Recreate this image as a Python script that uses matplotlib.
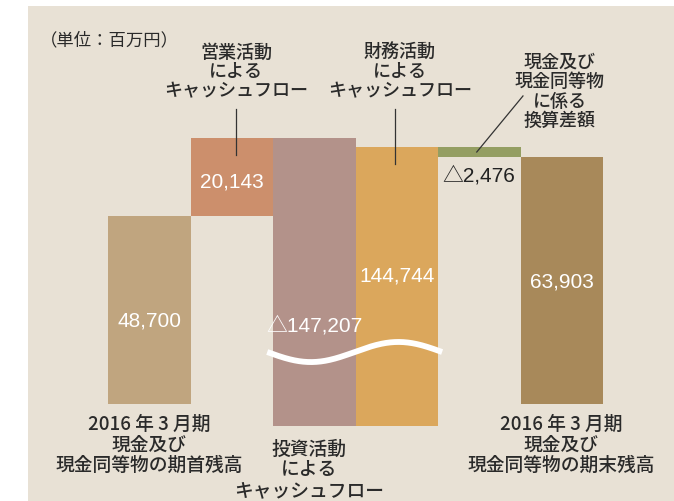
import numpy as np
import matplotlib
matplotlib.use("Agg")
import matplotlib.pyplot as plt
from matplotlib.patches import Rectangle

# ---- data (百万円) ----
steps = ["期首残高", "営業CF", "投資CF", "財務CF", "換算差額", "期末残高"]
values = [48700, 20143, -147207, 144744, -2476, 63903]
value_labels = ["48,700", "20,143", "△147,207", "144,744", "△2,476", "63,903"]
colors = ["#c0a57f", "#cc8f6c", "#b3928a", "#dba75c", "#949e62", "#a8895a"]
label_colors = ["white", "white", "white", "white", "#222222", "white"]
cut_value = -5700  # visible lower end of broken bars

W, H = 674, 502
fig = plt.figure(figsize=(W / 100, H / 100), dpi=100)
fig.patch.set_facecolor("white")
fig.patches.append(Rectangle((28 / W, 0), 1 - 28 / W, 1 - 7 / H,
                             transform=fig.transFigure, facecolor="#e8e1d5",
                             edgecolor="none", zorder=-5))

ax = fig.add_axes([0, 0, 1, 1])
ax.set_zorder(2)
ax.set_facecolor("none")
pxu = 82.5          # pixels per bar
base_px = 405       # baseline pixel row
scale = 3.865 / 1000  # pixels per yen-million
ax.set_xlim((0 - 108) / pxu - 0.5, (W - 108) / pxu - 0.5)
ax.set_ylim(-(H - base_px) / scale, base_px / scale)
ax.axis("off")

# waterfall geometry
cum = 0
bottoms, heights = [], []
for i, v in enumerate(values):
    if i == 0 or i == len(values) - 1:
        b, t = 0, v
        cum = v
    else:
        b, t = cum, cum + v
        cum = t
    lo, hi = min(b, t), max(b, t)
    lo = max(lo, cut_value)
    bottoms.append(lo)
    heights.append(hi - lo)

x = np.arange(len(values))
ax.bar(x, heights, bottom=bottoms, width=1.0, color=colors, edgecolor="none", zorder=2)

# broken-axis wave across the investment/financing bars
t = np.linspace(0, 1, 200)
wx = 1.43 + (3.55 - 1.43) * t
wy = 13450 - 2600 * np.sin(2 * np.pi * t)
ax.plot(wx, wy, color="white", lw=4.2, solid_capstyle="butt", zorder=3)

# value labels
num_font = ["Liberation Sans", "Noto Sans CJK JP"]
label_y = [21700, 57800, 20500, 33500, 59300, 31800]
for i in range(len(values)):
    ax.text(x[i], label_y[i], value_labels[i], ha="center", va="center",
            fontsize=15, color=label_colors[i], family=num_font, zorder=4)

# leader lines
lc = "#333333"
ax.plot([1.05, 1.05], [64500, 76300], color=lc, lw=0.9, zorder=4)
ax.plot([2.98, 2.98], [62000, 76300], color=lc, lw=0.9, zorder=4)
ax.plot([4.53, 3.97], [79700, 65200], color=lc, lw=0.9, zorder=4)

jp = ["Noto Sans CJK JP", "DejaVu Sans"]
tc = "#2a2a2a"

def ftext(px, py, s, size=13, ls=1.1):
    fig.text(px / W, 1 - py / H, s, ha="center", va="center", fontsize=size,
             family=jp, color=tc, linespacing=ls, zorder=5, weight="medium")

fig.text(40 / W, 1 - 40 / H, "（単位：百万円）", ha="left", va="center",
         fontsize=12.5, family=jp, color=tc)
ftext(236, 72, "営業活動\nによる\nキャッシュフロー")
ftext(400, 72, "財務活動\nによる\nキャッシュフロー")
ftext(560, 92, "現金及び\n現金同等物\nに係る\n換算差額")
ftext(149, 445, "2016 年 3 月期\n現金及び\n現金同等物の期首残高", size=13.5)
ftext(309, 470, "投資活動\nによる\nキャッシュフロー", size=13.5)
ftext(561, 445, "2016 年 3 月期\n現金及び\n現金同等物の期末残高", size=13.5)

fig.savefig("out.png", dpi=100, facecolor=fig.get_facecolor())
